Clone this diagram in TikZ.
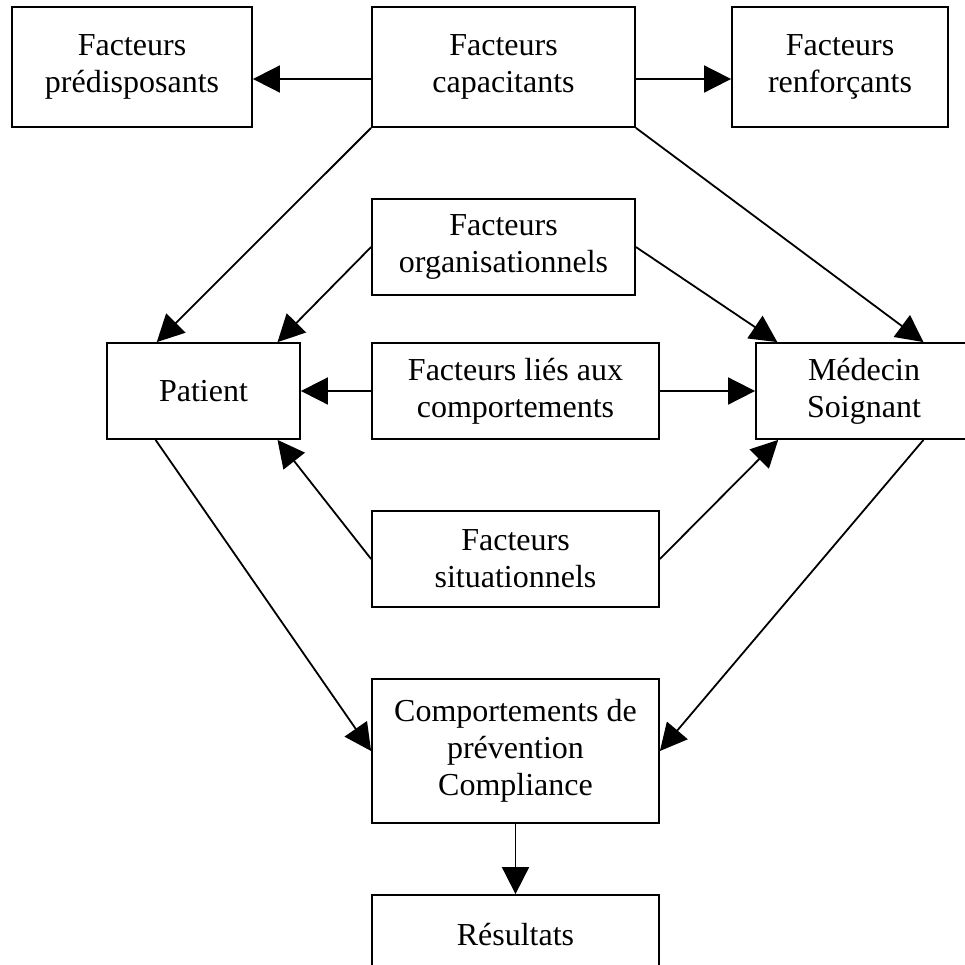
\documentclass[tikz,border=0pt]{standalone}
\usepackage{fontspec}
\setmainfont{Liberation Serif}
\usetikzlibrary{arrows.meta,calc}
\begin{document}
\begin{tikzpicture}[x=1pt,y=-1pt,
  box/.style={draw,line width=1.8pt,rectangle,align=center,inner sep=0pt,font=\fontsize{32}{36.8}\selectfont},
  arr/.style={line width=1.8pt,-{Triangle[length=27pt,width=27pt]}}]
\useasboundingbox (0,0) rectangle (965,964);
\clip (0,0) rectangle (965,964);
\node[box,minimum width=240,minimum height=120] (pre) at (132,67) {Facteurs\\prédisposants};
\node[box,minimum width=263,minimum height=120] (cap) at (503.5,67) {Facteurs\\capacitants};
\node[box,minimum width=216,minimum height=120] (ren) at (840,67) {Facteurs\\renforçants};
\node[box,minimum width=263,minimum height=96] (org) at (503.5,247) {Facteurs\\organisationnels};
\node[box,minimum width=193,minimum height=96] (pat) at (203.5,391) {Patient};
\node[box,minimum width=287,minimum height=96] (lie) at (515.5,391) {Facteurs liés aux\\comportements};
\node[box,minimum width=216,minimum height=96] (med) at (864,391) {Médecin\\Soignant};
\node[box,minimum width=287,minimum height=96] (sit) at (515.5,559) {Facteurs\\situationnels};
\node[box,minimum width=287,minimum height=144] (com) at (515.5,751) {Comportements de\\prévention\\Compliance};
\node[box,minimum width=287,minimum height=80] (res) at (515.5,935) {Résultats};
\draw[arr] ($(cap.west)+(0,12)$) -- ($(pre.east)+(0,12)$);
\draw[arr] ($(cap.east)+(0,12)$) -- ($(ren.west)+(0,12)$);
\draw[arr] (cap.south west) -- ($(pat.north west)!0.26!(pat.north east)$);
\draw[arr] (cap.south east) -- ($(med.north west)!0.773!(med.north east)$);
\draw[arr] (org.west) -- ($(pat.north west)!0.88!(pat.north east)$);
\draw[arr] (org.east) -- ($(med.north west)!0.102!(med.north east)$);
\draw[arr] (lie.west) -- (pat.east);
\draw[arr] (lie.east) -- (med.west);
\draw[arr] (sit.west) -- ($(pat.south west)!0.88!(pat.south east)$);
\draw[arr] (sit.east) -- ($(med.south west)!0.106!(med.south east)$);
\draw[arr] ($(pat.south west)!0.254!(pat.south east)$) -- (com.west);
\draw[arr] ($(med.south west)!0.773!(med.south east)$) -- (com.east);
\draw[arr] (com.south) -- (res.north);
\end{tikzpicture}
\end{document}
